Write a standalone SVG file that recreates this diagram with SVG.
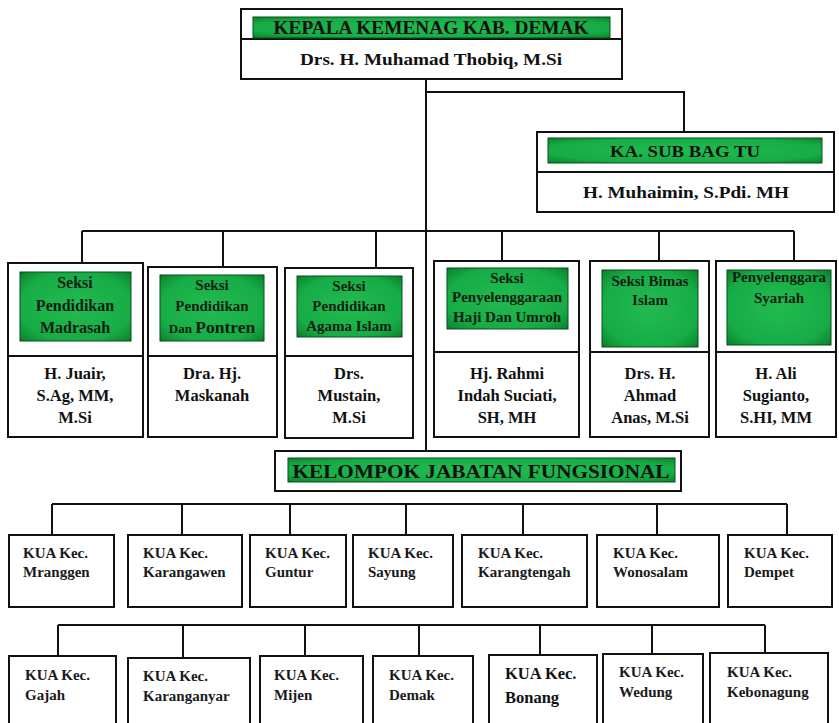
<svg xmlns="http://www.w3.org/2000/svg" width="839" height="723" viewBox="0 0 839 723" font-family="'Liberation Serif', 'Times New Roman', serif">
<defs>
<radialGradient id="g" cx="50%" cy="50%" r="72%">
<stop offset="0%" stop-color="#22bb50"/>
<stop offset="70%" stop-color="#17ac46"/>
<stop offset="92%" stop-color="#0e8a33"/>
<stop offset="100%" stop-color="#075f20"/>
</radialGradient>
</defs>
<style>
.box{fill:#fff;stroke:#111;stroke-width:2}
.gr{fill:url(#g);stroke:#06501b;stroke-width:1}
.ln{fill:none;stroke:#111;stroke-width:2}
text{font-family:"Liberation Serif","Times New Roman",serif;fill:#111;font-weight:bold}
.c{text-anchor:middle}
.gt{font-size:16px;fill:#102014}
.gs{font-size:15px;fill:#102014}
.nm{font-size:16.5px}
.kua{font-size:15px;fill:#1a1a1a}
</style>
<rect width="839" height="723" fill="#fff"/>
<g id="connectors">
<path class="ln" d="M426,79 V451"/>
<path class="ln" d="M426,92 H684 V132"/>
<path class="ln" d="M82,231 H794 M82,231 V263 M223,231 V267 M376,231 V268 M502,231 V261 M659,231 V261 M794,231 V261"/>
<path class="ln" d="M52,504 H787 M52,504 V535 M182,504 V535 M290,504 V535 M406,504 V535 M523,504 V535 M657,504 V535 M787,504 V535"/>
<path class="ln" d="M58,625 H765 M58,625 V656 M183,625 V658 M305,625 V656 M419,625 V656 M540,625 V655 M652,625 V654 M765,625 V653"/>
</g>
<g id="kepala">
<rect class="box" x="241" y="9" width="381" height="70"/>
<line class="ln" x1="241" y1="39" x2="622" y2="39"/>
<rect class="gr" x="253" y="17" width="357" height="21"/>
<text class="c" x="431" y="34" font-size="18" fill="#102014" textLength="315" lengthAdjust="spacingAndGlyphs">KEPALA KEMENAG KAB. DEMAK</text>
<text class="c" x="431" y="65" font-size="17" textLength="262" lengthAdjust="spacingAndGlyphs">Drs. H. Muhamad Thobiq, M.Si</text>
</g>
<g id="subbag">
<rect class="box" x="537" y="132" width="297" height="80"/>
<line class="ln" x1="537" y1="172" x2="834" y2="172"/>
<rect class="gr" x="548" y="138" width="274" height="25"/>
<text class="c" x="685" y="157" font-size="17" fill="#102014" textLength="150" lengthAdjust="spacingAndGlyphs">KA. SUB BAG TU</text>
<text class="c" x="686" y="198" font-size="16.5" textLength="206" lengthAdjust="spacingAndGlyphs">H. Muhaimin, S.Pdi. MH</text>
</g>
<g id="seksi-madrasah">
<rect class="box" x="8" y="263" width="135" height="174"/>
<line class="ln" x1="8" y1="356" x2="143" y2="356"/>
<rect class="gr" x="20" y="272" width="111" height="69"/>
<text class="c gt" x="75" y="288">Seksi</text>
<text class="c gt" x="75" y="311">Pendidikan</text>
<text class="c gt" x="75" y="333">Madrasah</text>
<text class="c nm" x="75" y="379">H. Juair,</text>
<text class="c nm" x="75" y="401">S.Ag, MM,</text>
<text class="c nm" x="75" y="423">M.Si</text>
</g>
<g id="seksi-pontren">
<rect class="box" x="148" y="267" width="129" height="170"/>
<line class="ln" x1="148" y1="356" x2="277" y2="356"/>
<rect class="gr" x="160" y="275" width="104" height="66"/>
<text class="c gs" x="212" y="290">Seksi</text>
<text class="c gs" x="212" y="311">Pendidikan</text>
<text class="c gs" x="212" y="333"><tspan font-size="13">Dan </tspan><tspan font-size="17.5">Pontren</tspan></text>
<text class="c nm" x="212" y="379">Dra. Hj.</text>
<text class="c nm" x="212" y="401">Maskanah</text>
</g>
<g id="seksi-pai">
<rect class="box" x="285" y="268" width="128" height="170"/>
<line class="ln" x1="285" y1="356" x2="413" y2="356"/>
<rect class="gr" x="297" y="276" width="105" height="61"/>
<text class="c gs" x="349" y="291">Seksi</text>
<text class="c gs" x="349" y="311">Pendidikan</text>
<text class="c gs" x="349" y="331">Agama Islam</text>
<text class="c nm" x="349" y="379">Drs.</text>
<text class="c nm" x="349" y="401">Mustain,</text>
<text class="c nm" x="349" y="423">M.Si</text>
</g>
<g id="seksi-haji">
<rect class="box" x="434" y="261" width="145" height="176"/>
<line class="ln" x1="434" y1="352" x2="579" y2="352"/>
<rect class="gr" x="447" y="268" width="121" height="61"/>
<text class="c gs" x="507" y="283">Seksi</text>
<text class="c gs" x="507" y="302">Penyelenggaraan</text>
<text class="c gs" x="507" y="322">Haji Dan Umroh</text>
<text class="c nm" x="507" y="379">Hj. Rahmi</text>
<text class="c nm" x="507" y="401">Indah Suciati,</text>
<text class="c nm" x="507" y="423">SH, MH</text>
</g>
<g id="seksi-bimas">
<rect class="box" x="590" y="261" width="119" height="176"/>
<line class="ln" x1="590" y1="352" x2="709" y2="352"/>
<rect class="gr" x="602" y="270" width="96" height="77"/>
<text class="c gs" x="650" y="286">Seksi Bimas</text>
<text class="c gs" x="650" y="305">Islam</text>
<text class="c nm" x="650" y="379">Drs. H.</text>
<text class="c nm" x="650" y="401">Ahmad</text>
<text class="c nm" x="650" y="423">Anas, M.Si</text>
</g>
<g id="penyelenggara-syariah">
<rect class="box" x="716" y="261" width="120" height="176"/>
<line class="ln" x1="716" y1="352" x2="836" y2="352"/>
<rect class="gr" x="727" y="270" width="104" height="75"/>
<text class="c gs" x="779" y="282">Penyelenggara</text>
<text class="c gs" x="779" y="303">Syariah</text>
<text class="c nm" x="776" y="379">H. Ali</text>
<text class="c nm" x="776" y="401">Sugianto,</text>
<text class="c nm" x="776" y="423">S.HI, MM</text>
</g>
<g id="kelompok">
<rect class="box" x="275" y="451" width="406" height="40"/>
<rect class="gr" x="288" y="458" width="387" height="24"/>
<text class="c" x="481" y="478" font-size="19" fill="#102014" textLength="377" lengthAdjust="spacingAndGlyphs">KELOMPOK JABATAN FUNGSIONAL</text>
</g>
<g id="kua-mranggen"><rect class="box" x="9" y="535" width="105" height="72"/><text class="kua" x="23" y="558">KUA Kec.</text><text class="kua" x="23" y="577">Mranggen</text></g>
<g id="kua-karangawen"><rect class="box" x="128" y="535" width="114" height="72"/><text class="kua" x="143" y="558">KUA Kec.</text><text class="kua" x="143" y="577">Karangawen</text></g>
<g id="kua-guntur"><rect class="box" x="250" y="535" width="96" height="72"/><text class="kua" x="265" y="558">KUA Kec.</text><text class="kua" x="265" y="577">Guntur</text></g>
<g id="kua-sayung"><rect class="box" x="353" y="535" width="100" height="72"/><text class="kua" x="368" y="558">KUA Kec.</text><text class="kua" x="368" y="577">Sayung</text></g>
<g id="kua-karangtengah"><rect class="box" x="462" y="535" width="125" height="72"/><text class="kua" x="478" y="558">KUA Kec.</text><text class="kua" x="478" y="577">Karangtengah</text></g>
<g id="kua-wonosalam"><rect class="box" x="597" y="535" width="122" height="72"/><text class="kua" x="613" y="558">KUA Kec.</text><text class="kua" x="613" y="577">Wonosalam</text></g>
<g id="kua-dempet"><rect class="box" x="728" y="535" width="104" height="72"/><text class="kua" x="744" y="558">KUA Kec.</text><text class="kua" x="744" y="577">Dempet</text></g>
<g id="kua-gajah"><rect class="box" x="9" y="656" width="107" height="80"/><text class="kua" x="25" y="680">KUA Kec.</text><text class="kua" x="25" y="700">Gajah</text></g>
<g id="kua-karanganyar"><rect class="box" x="128" y="658" width="122" height="80"/><text class="kua" x="143" y="681">KUA Kec.</text><text class="kua" x="143" y="701">Karanganyar</text></g>
<g id="kua-mijen"><rect class="box" x="260" y="656" width="103" height="80"/><text class="kua" x="274" y="680">KUA Kec.</text><text class="kua" x="274" y="700">Mijen</text></g>
<g id="kua-demak"><rect class="box" x="373" y="656" width="100" height="80"/><text class="kua" x="389" y="680">KUA Kec.</text><text class="kua" x="389" y="700">Demak</text></g>
<g id="kua-bonang"><rect class="box" x="489" y="655" width="108" height="80"/><text x="505" y="679" font-size="16.5">KUA Kec.</text><text x="505" y="703" font-size="16.5">Bonang</text></g>
<g id="kua-wedung"><rect class="box" x="603" y="654" width="100" height="80"/><text class="kua" x="619" y="677">KUA Kec.</text><text class="kua" x="619" y="697">Wedung</text></g>
<g id="kua-kebonagung"><rect class="box" x="710" y="653" width="118" height="80"/><text class="kua" x="727" y="677">KUA Kec.</text><text class="kua" x="727" y="697">Kebonagung</text></g>
</svg>
